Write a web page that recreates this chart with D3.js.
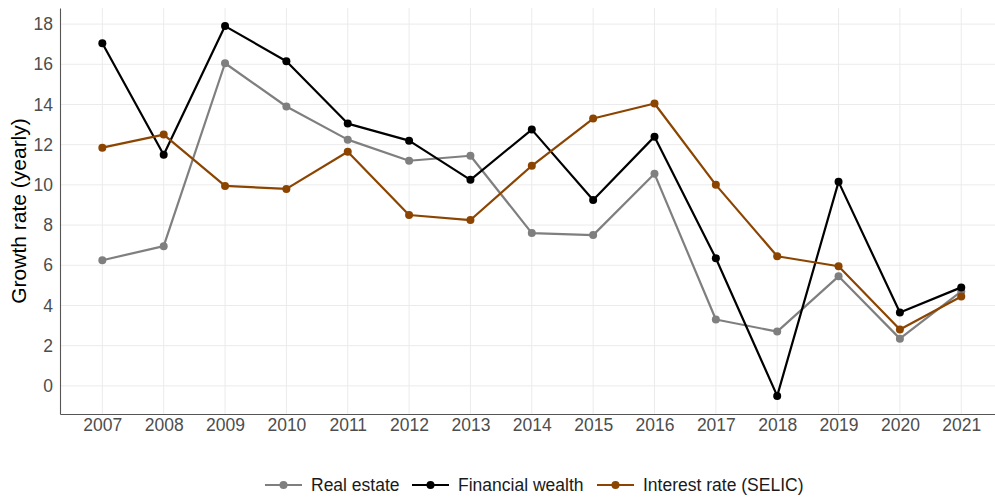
<!DOCTYPE html>
<html>
<head>
<meta charset="utf-8">
<script src="https://cdn.jsdelivr.net/npm/d3@7"></script>
<style>
  body { margin: 0; background: #fff; }
  text { font-family: "Liberation Sans", Arial, sans-serif; }
</style>
</head>
<body>
<svg id="chart" width="995" height="498"></svg>
<script>
// data
var years = [2007, 2008, 2009, 2010, 2011, 2012, 2013, 2014, 2015, 2016, 2017, 2018, 2019, 2020, 2021];
var realEstate = [6.25, 6.95, 16.05, 13.9, 12.25, 11.2, 11.45, 7.6, 7.5, 10.55, 3.3, 2.7, 5.45, 2.35, 4.7];
var financialWealth = [17.05, 11.5, 17.9, 16.15, 13.05, 12.2, 10.25, 12.75, 9.25, 12.4, 6.35, -0.5, 10.15, 3.65, 4.9];
var interestRate = [11.85, 12.5, 9.95, 9.8, 11.65, 8.5, 8.25, 10.95, 13.3, 14.05, 10.0, 6.45, 5.95, 2.8, 4.45];
var yTicks = [0, 2, 4, 6, 8, 10, 12, 14, 16, 18];
var seriesNames = ["Real estate", "Financial wealth", "Interest rate (SELIC)"];
var seriesColors = ["#7f7f7f", "#000000", "#8b4500"];

var svg = d3.select("#chart"),
    margin = {top: 8, right: 0, bottom: 84, left: 60},
    width = +svg.attr("width") - margin.left - margin.right,
    height = +svg.attr("height") - margin.top - margin.bottom,
    g = svg.append("g").attr("transform", "translate(" + margin.left + "," + margin.top + ")");

var x = d3.scaleLinear().domain([2006.31, 2021.55]).range([0, width]);
var y = d3.scaleLinear().domain([-1.4, 18.8]).range([height, 0]);

// gridlines
g.append("g").selectAll("line").data(yTicks).enter().append("line")
    .attr("x1", 0).attr("x2", width)
    .attr("y1", function(d) { return y(d); }).attr("y2", function(d) { return y(d); })
    .attr("stroke", "#ebebeb").attr("stroke-width", 1);
g.append("g").selectAll("line").data(years).enter().append("line")
    .attr("y1", 0).attr("y2", height)
    .attr("x1", function(d) { return x(d); }).attr("x2", function(d) { return x(d); })
    .attr("stroke", "#ebebeb").attr("stroke-width", 1);

// axes
var xAxis = d3.axisBottom(x).tickValues(years).tickFormat(d3.format("d")).tickSize(0).tickPadding(5);
var yAxis = d3.axisLeft(y).tickValues(yTicks).tickSize(0).tickPadding(7);

g.append("g")
    .attr("transform", "translate(0," + height + ")")
    .call(xAxis)
    .call(function(a) {
      a.select(".domain").attr("stroke", "#555").attr("stroke-width", 1.1);
      a.selectAll(".tick text").attr("fill", "#4d4d4d").attr("font-size", "17.5px")
        .attr("font-family", "Liberation Sans, Arial, sans-serif");
    });

g.append("g")
    .call(yAxis)
    .call(function(a) {
      a.select(".domain").attr("stroke", "#555").attr("stroke-width", 1.1);
      a.selectAll(".tick text").attr("fill", "#4d4d4d").attr("font-size", "17.5px")
        .attr("font-family", "Liberation Sans, Arial, sans-serif");
    });

// y title
svg.append("text")
    .attr("transform", "translate(26," + (margin.top + height / 2) + ") rotate(-90)")
    .attr("text-anchor", "middle")
    .attr("font-size", "21px")
    .attr("fill", "#000")
    .text("Growth rate (yearly)");

// lines + points
var allSeries = [realEstate, financialWealth, interestRate];
var line = d3.line()
    .x(function(d, i) { return x(years[i]); })
    .y(function(d) { return y(d); });

allSeries.forEach(function(vals, k) {
  g.append("path")
      .datum(vals)
      .attr("fill", "none")
      .attr("stroke", seriesColors[k])
      .attr("stroke-width", 2.2)
      .attr("stroke-linejoin", "round")
      .attr("d", line);
  g.append("g").selectAll("circle").data(vals).enter().append("circle")
      .attr("cx", function(d, i) { return x(years[i]); })
      .attr("cy", function(d) { return y(d); })
      .attr("r", 4)
      .attr("fill", seriesColors[k]);
});

// legend
var legendX = [265, 412, 597];
var legend = svg.append("g").attr("transform", "translate(0,485)");
seriesNames.forEach(function(name, k) {
  var lg = legend.append("g").attr("transform", "translate(" + legendX[k] + ",0)");
  lg.append("line").attr("x1", 0).attr("x2", 37).attr("y1", 0).attr("y2", 0)
      .attr("stroke", seriesColors[k]).attr("stroke-width", 2.2);
  lg.append("circle").attr("cx", 18.5).attr("cy", 0).attr("r", 4).attr("fill", seriesColors[k]);
  lg.append("text").attr("x", 46).attr("y", 0).attr("dy", "0.35em")
      .attr("font-size", "17.5px").attr("fill", "#1a1a1a").text(name);
});
</script>
</body>
</html>
